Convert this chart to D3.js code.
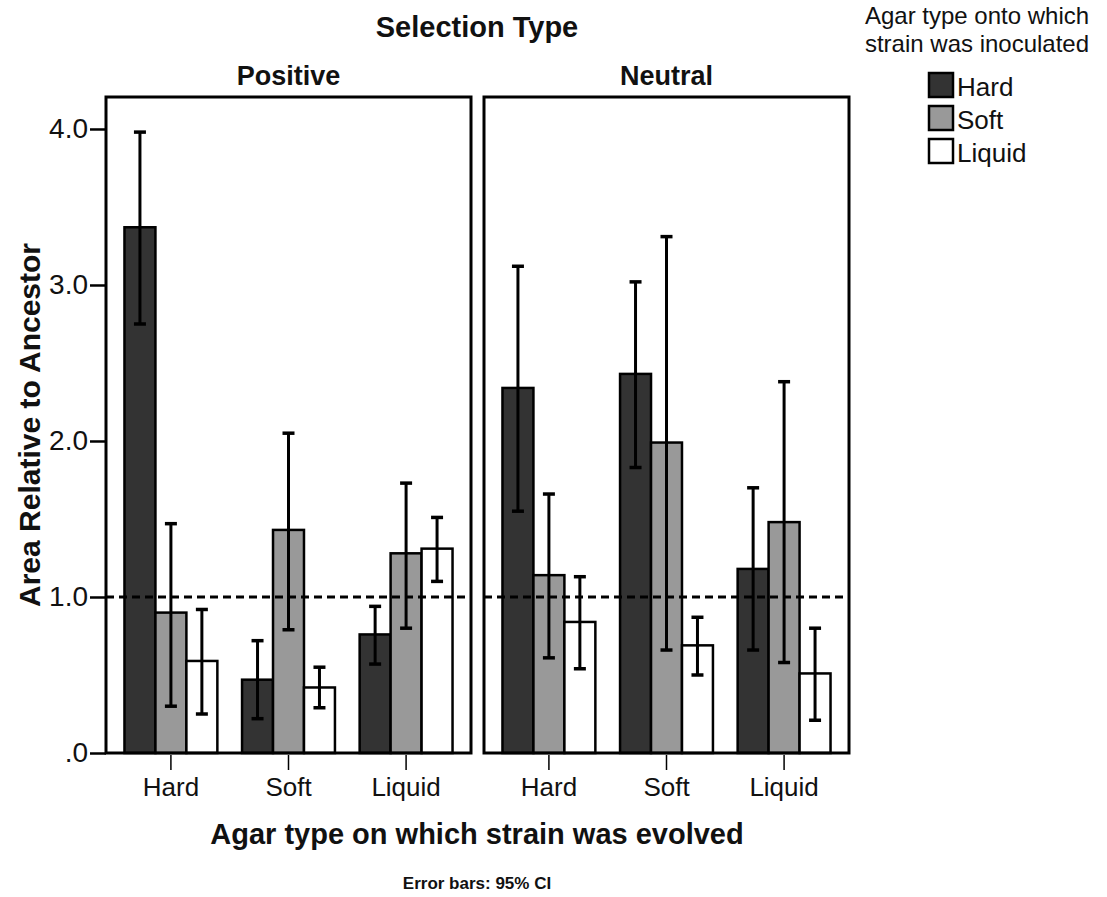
<!DOCTYPE html>
<html>
<head>
<meta charset="utf-8">
<script src="https://cdn.jsdelivr.net/npm/d3@7"></script>
<style>
  body { margin: 0; background: #fff; }
  text { font-family: Arial, "Liberation Sans", sans-serif; fill: #111; }
</style>
</head>
<body>
<div id="chart"></div>
<script>
// data
var selection = ["Positive", "Neutral"];
var evolved = ["Hard", "Soft", "Liquid"];
var inoculated = ["Hard", "Soft", "Liquid"];
var yTicks = [0, 1, 2, 3, 4];
var yTickLabels = [".0", "1.0", "2.0", "3.0", "4.0"];
var reference = 1.0;

// ordered evolved x inoculated
var positiveMean = [3.37, 0.90, 0.59, 0.47, 1.43, 0.42, 0.76, 1.28, 1.31];
var positiveLow  = [2.75, 0.30, 0.25, 0.22, 0.79, 0.29, 0.57, 0.80, 1.10];
var positiveHigh = [3.98, 1.47, 0.92, 0.72, 2.05, 0.55, 0.94, 1.73, 1.51];
var neutralMean  = [2.34, 1.14, 0.84, 2.43, 1.99, 0.69, 1.18, 1.48, 0.51];
var neutralLow   = [1.55, 0.61, 0.54, 1.83, 0.66, 0.50, 0.66, 0.58, 0.21];
var neutralHigh  = [3.12, 1.66, 1.13, 3.02, 3.31, 0.87, 1.70, 2.38, 0.80];

var colors = ["#333333", "#999999", "#ffffff"];

var containerWidth = 1107,
    containerHeight = 897;

var panelTop = 97, panelBottom = 753, panelWidth = 365;
var panelLefts = [106, 484];

var svg = d3.select("#chart")
    .append("svg")
    .attr("width", containerWidth)
    .attr("height", containerHeight);

var y = d3.scaleLinear().domain([0, 4.205]).range([panelBottom, panelTop]);

var x0 = d3.scaleBand().domain(evolved).range([0, panelWidth])
    .paddingInner(0.21).paddingOuter(0.157);
var x1 = d3.scaleBand().domain(inoculated).range([0, x0.bandwidth()]);

var panelData = [
    { mean: positiveMean, low: positiveLow, high: positiveHigh },
    { mean: neutralMean, low: neutralLow, high: neutralHigh }
];

function rows(p) {
    var out = [];
    evolved.forEach(function(e, i) {
        inoculated.forEach(function(s, j) {
            var k = i * 3 + j;
            out.push({ e: e, s: s, j: j, mean: p.mean[k], low: p.low[k], high: p.high[k] });
        });
    });
    return out;
}

// title
svg.append("text")
    .attr("x", 477).attr("y", 37)
    .attr("text-anchor", "middle")
    .style("font-size", "29px").style("font-weight", "bold")
    .text("Selection Type");

selection.forEach(function(name, pi) {
    var g = svg.append("g")
        .attr("transform", "translate(" + panelLefts[pi] + ",0)");

    g.append("text")
        .attr("x", panelWidth / 2).attr("y", 85)
        .attr("text-anchor", "middle")
        .style("font-size", "27px").style("font-weight", "bold")
        .text(name);

    var data = rows(panelData[pi]);

    // bars
    g.selectAll("rect.bar").data(data).enter().append("rect")
        .attr("class", "bar")
        .attr("x", function(d) { return x0(d.e) + x1(d.s); })
        .attr("width", x1.bandwidth())
        .attr("y", function(d) { return y(d.mean); })
        .attr("height", function(d) { return y(0) - y(d.mean); })
        .attr("fill", function(d) { return colors[d.j]; })
        .attr("stroke", "#000").attr("stroke-width", 2.5);

    // reference line
    g.append("line")
        .attr("x1", 0).attr("x2", panelWidth)
        .attr("y1", y(reference)).attr("y2", y(reference))
        .attr("stroke", "#000").attr("stroke-width", 3)
        .attr("stroke-dasharray", "8,5");

    // error bars
    var eb = g.selectAll("g.err").data(data).enter().append("g")
        .attr("class", "err")
        .attr("transform", function(d) {
            return "translate(" + (x0(d.e) + x1(d.s) + x1.bandwidth() / 2) + ",0)";
        });
    eb.append("line")
        .attr("y1", function(d) { return y(d.low); })
        .attr("y2", function(d) { return y(d.high); })
        .attr("stroke", "#000").attr("stroke-width", 3);
    eb.append("line")
        .attr("x1", -6).attr("x2", 6)
        .attr("y1", function(d) { return y(d.high); })
        .attr("y2", function(d) { return y(d.high); })
        .attr("stroke", "#000").attr("stroke-width", 3.5);
    eb.append("line")
        .attr("x1", -6).attr("x2", 6)
        .attr("y1", function(d) { return y(d.low); })
        .attr("y2", function(d) { return y(d.low); })
        .attr("stroke", "#000").attr("stroke-width", 3.5);

    // frame
    g.append("rect")
        .attr("x", 0).attr("y", panelTop)
        .attr("width", panelWidth).attr("height", panelBottom - panelTop)
        .attr("fill", "none").attr("stroke", "#000").attr("stroke-width", 3);

    // x axis
    var xa = g.append("g")
        .attr("transform", "translate(0," + panelBottom + ")")
        .call(d3.axisBottom(x0).tickSize(17).tickPadding(8));
    xa.select(".domain").remove();
    xa.selectAll(".tick line").attr("stroke", "#000").attr("stroke-width", 1.5).attr("y1", 2);
    xa.selectAll(".tick text")
        .style("font-size", "26px").style("font-family", "Arial, 'Liberation Sans', sans-serif")
        .attr("fill", "#111");

    // y axis on first panel
    if (pi === 0) {
        var ya = g.append("g")
            .call(d3.axisLeft(y).tickValues(yTicks)
                .tickFormat(function(d, i) { return yTickLabels[i]; })
                .tickSize(16).tickPadding(2));
        ya.select(".domain").remove();
        ya.selectAll(".tick line").attr("stroke", "#000").attr("stroke-width", 2.5);
        ya.selectAll(".tick text")
            .style("font-size", "28px").style("font-family", "Arial, 'Liberation Sans', sans-serif")
            .attr("fill", "#111");
    }
});

// axis titles
svg.append("text")
    .attr("transform", "translate(40,425) rotate(-90)")
    .attr("text-anchor", "middle")
    .style("font-size", "30px").style("font-weight", "bold")
    .text("Area Relative to Ancestor");

svg.append("text")
    .attr("x", 477).attr("y", 844)
    .attr("text-anchor", "middle")
    .style("font-size", "29px").style("font-weight", "bold")
    .text("Agar type on which strain was evolved");

svg.append("text")
    .attr("x", 477).attr("y", 889)
    .attr("text-anchor", "middle")
    .style("font-size", "17px").style("font-weight", "bold")
    .text("Error bars: 95% CI");

// legend
var legend = svg.append("g");
legend.append("text")
    .attr("x", 977).attr("y", 24)
    .attr("text-anchor", "middle")
    .style("font-size", "24px")
    .text("Agar type onto which");
legend.append("text")
    .attr("x", 977).attr("y", 52)
    .attr("text-anchor", "middle")
    .style("font-size", "24px")
    .text("strain was inoculated");

var li = legend.selectAll("g.item").data(inoculated).enter().append("g")
    .attr("class", "item")
    .attr("transform", function(d, i) { return "translate(929," + (73 + i * 33) + ")"; });
li.append("rect")
    .attr("width", 24).attr("height", 24)
    .attr("fill", function(d, i) { return colors[i]; })
    .attr("stroke", "#000").attr("stroke-width", 2.5);
li.append("text")
    .attr("x", 28).attr("y", 23)
    .style("font-size", "26px")
    .text(function(d) { return d; });
</script>
</body>
</html>
